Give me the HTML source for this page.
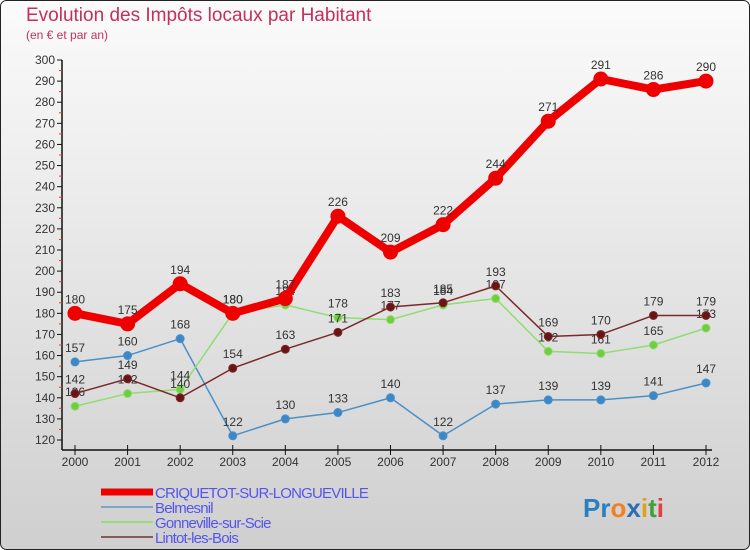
<!DOCTYPE html>
<html><head><meta charset="utf-8"><style>
body{margin:0;}
#wrap{width:750px;height:550px;position:relative;overflow:hidden;}
svg text{font-family:"Liberation Sans",sans-serif;}
</style></head><body>
<div id="wrap">
<svg id="chart" width="750" height="550" xmlns="http://www.w3.org/2000/svg">
<defs><linearGradient id="bg" x1="0" y1="0" x2="0" y2="1"><stop offset="0" stop-color="#fbfbfb"/><stop offset="1" stop-color="#cfcfcf"/></linearGradient></defs>
<rect x="0.5" y="0.5" width="749" height="549" rx="6" fill="url(#bg)" stroke="#222"/>
<text x="26" y="21" font-size="19" fill="#c4305a">Evolution des Impôts locaux par Habitant</text>
<text x="26" y="39" font-size="12" fill="#c4305a">(en € et par an)</text>
<g id="axes"></g><g id="series"></g><g id="legend"></g>
<text x="583" y="517" font-size="26" font-weight="bold"><tspan fill="#2a7fc0">Pr</tspan><tspan fill="#f08020">o</tspan><tspan fill="#2a6fb0">x</tspan><tspan fill="#e0a020">i</tspan><tspan fill="#40a040">t</tspan><tspan fill="#e04040">i</tspan></text>
</svg></div>
<script>
const years=["2000","2001","2002","2003","2004","2005","2006","2007","2008","2009","2010","2011","2012"];
const yTicks=[120,130,140,150,160,170,180,190,200,210,220,230,240,250,260,270,280,290,300];
const criquetot=[180,175,194,180,187,226,209,222,244,271,291,286,290];
const belmesnil=[157,160,168,122,130,133,140,122,137,139,139,141,147];
const gonneville=[136,142,144,180,184,178,177,184,187,162,161,165,173];
const lintot=[142,149,140,154,163,171,183,185,193,169,170,179,179];
const NS="http://www.w3.org/2000/svg";
function xs(i){return 75+i*(706-75)/(years.length-1);}
function ys(v){return 440-(v-120)*(380/180);}
function mk(tag,attrs,parent){const e=document.createElementNS(NS,tag);for(const k in attrs)e.setAttribute(k,attrs[k]);parent.appendChild(e);return e;}
const ax=document.getElementById('axes');
let l=mk('line',{x1:62,y1:ys(300),x2:62,y2:450,stroke:'#111','stroke-width':1.5},ax);


l=mk('line',{x1:62,y1:450,x2:712,y2:450,stroke:'#111','stroke-width':1.5},ax);


yTicks.forEach(v=>{
 let t=mk('line',{x1:57,y1:ys(v),x2:62,y2:ys(v),stroke:'#111'},ax);
 
 
 if(v<300){let m=mk('line',{x1:59,y1:ys(v+5),x2:62,y2:ys(v+5),stroke:'#e33'},ax);
 
 }
 let tx=mk('text',{x:55,y:ys(v)+4,'font-size':12,fill:'#333','text-anchor':'end'},ax);
 tx.textContent=v;
 
 
});
years.forEach((y,i)=>{
 let t=mk('line',{x1:xs(i),y1:445,x2:xs(i),y2:455,stroke:'#111'},ax);
 
 
 let tx=mk('text',{x:xs(i),y:466,'font-size':12,fill:'#333','text-anchor':'middle'},ax);
 tx.textContent=y;
 
 
});
const sg=document.getElementById('series');
function draw(name,data,color,w,r,dot){
 const g=mk('g',{},sg);
 
 
 const p=mk('polyline',{points:data.map((v,i)=>xs(i)+','+ys(v)).join(' '),fill:'none',stroke:color,'stroke-width':w,'stroke-linejoin':'round'},g);
 
 
 data.forEach((v,i)=>{
  const c=mk('circle',{cx:xs(i),cy:ys(v),r:r,fill:dot,stroke:color,'stroke-width':1},g);
  
  
  const t=mk('text',{x:xs(i),y:ys(v)-10,'font-size':12,fill:'#333','text-anchor':'middle'},g);
  t.textContent=v;
  
  
 });
}
draw('belmesnil',belmesnil,'#4a90c8',1.5,4,'#3a88c8');
draw('gonneville',gonneville,'#90dd70',1.5,4,'#70cc40');
draw('lintot',lintot,'#7a2a2a',1.5,4,'#6a1515');
draw('criquetot',criquetot,'#ee0000',8,7,'#ee0000');
const lg=document.getElementById('legend');
const leg=[["CRIQUETOT-SUR-LONGUEVILLE","#ee0000",7],["Belmesnil","#7aa8cc",2],["Gonneville-sur-Scie","#99dd77",2],["Lintot-les-Bois","#8a5a5a",2]];
leg.forEach((e,i)=>{
 const y=492+i*15;
 const ln=mk('line',{x1:101,y1:y,x2:153,y2:y,stroke:e[1],'stroke-width':e[2]},lg);
 
 
 const t=mk('text',{x:155,y:y+6,'font-size':15,fill:'#5555ee','letter-spacing':'-0.8'},lg);
 t.textContent=e[0];
 
 
});
</script>
</body></html>
